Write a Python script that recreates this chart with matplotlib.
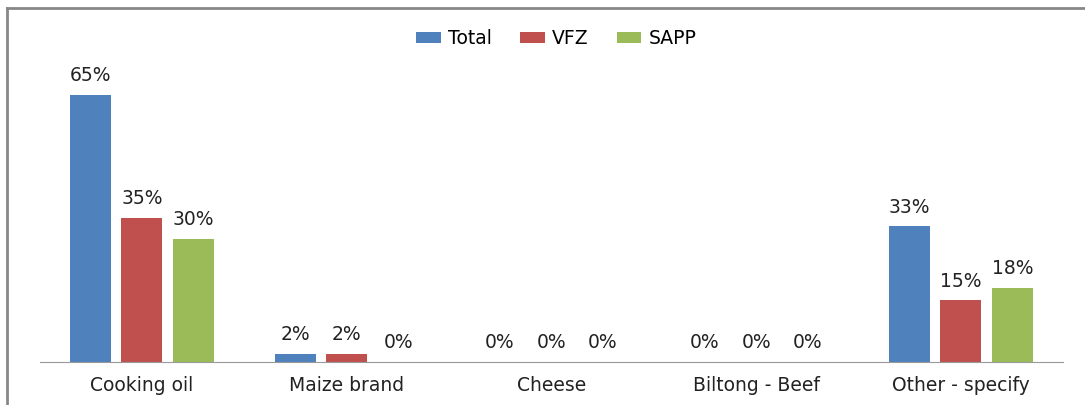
import numpy as np
import matplotlib.pyplot as plt
from matplotlib.lines import Line2D

categories = ["Cooking oil", "Maize brand", "Cheese", "Biltong - Beef", "Other - specify"]
total = [65, 2, 0, 0, 33]
vfz = [35, 2, 0, 0, 15]
sapp = [30, 0, 0, 0, 18]
series_names = ["Total", "VFZ", "SAPP"]
colors = ["#4F81BD", "#C0504D", "#9BBB59"]

plt.rcParams['font.family'] = ['DejaVu Sans']

fig = plt.figure(figsize=(10.85, 4.05), dpi=100)
ax = fig.add_axes([0.0365, 0.106, 0.9435, 0.711])

x = np.arange(len(categories))
w = 0.2
step = 0.2515
for i, (vals, name, c) in enumerate(zip([total, vfz, sapp], series_names, colors)):
    pos = x + (i - 1) * step
    ax.bar(pos, vals, w, color=c, label=name)
    for p, v in zip(pos, vals):
        ax.annotate(f"{v}%", (p, v), xytext=(0, 7), textcoords="offset points",
                    ha="center", va="bottom", fontsize=13.5, color="#222222")

ax.set_xlim(-0.5, 4.5)
ax.set_ylim(0, 70)
ax.set_xticks(x)
ax.set_xticklabels(categories, fontsize=13.5, color="#222222")
ax.tick_params(axis='x', length=0, pad=10)
ax.set_yticks([])
for s in ["top", "right", "left"]:
    ax.spines[s].set_visible(False)
ax.spines["bottom"].set_color("#999999")

leg = fig.legend(loc="upper center", bbox_to_anchor=(0.513, 0.97), ncol=3, frameon=False,
                 fontsize=13.5, handlelength=1.3, handleheight=0.55, columnspacing=1.5,
                 handletextpad=0.4)

# outer frame (left and top edges visible)
fig.add_artist(Line2D([0.0065, 0.0065], [0.0, 0.981], color="#888888", lw=2, transform=fig.transFigure))
fig.add_artist(Line2D([0.0065, 1.0], [0.981, 0.981], color="#888888", lw=2, transform=fig.transFigure))

fig.savefig("out.png", dpi=100)
